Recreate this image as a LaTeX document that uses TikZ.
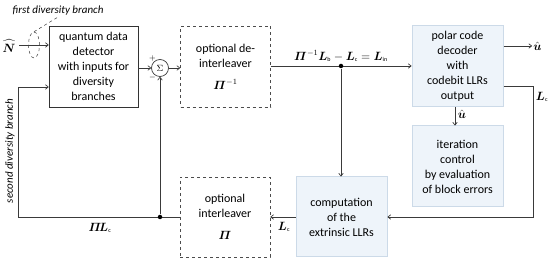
\documentclass[tikz,border=0pt]{standalone}
\usepackage{amsmath}
\usepackage{fontspec}
\setmainfont{Carlito}
\usetikzlibrary{arrows.meta,shapes.geometric}
\definecolor{lbfill}{HTML}{EEF4FA}
\definecolor{lbdraw}{HTML}{CCDAE8}
\definecolor{ln}{HTML}{3A3A3A}
\newcommand{\sbs}[1]{_{\scriptscriptstyle\mathrm{#1}}}
\begin{document}
\begin{tikzpicture}[x=1pt,y=-1pt,
  font=\fontsize{12}{15}\selectfont,
  every path/.style={line width=0.7pt},
  arr/.style={-{To[length=3.5pt,width=5pt]}, draw=ln},
  wire/.style={draw=ln},
  plainbox/.style={draw=black!80, rectangle, align=center, minimum width=89pt, minimum height=81pt, inner sep=1pt},
  dbox/.style={draw=black!70, dashed, rectangle, align=center, minimum width=90pt, minimum height=81pt, inner sep=1pt},
  bbox/.style={draw=lbdraw, fill=lbfill, rectangle, align=center, minimum width=91pt, minimum height=81pt, inner sep=1pt, line width=1pt},
  lbl/.style={inner sep=1pt},
  dotn/.style={circle, fill=black, inner sep=0pt, minimum size=4.5pt}]
\useasboundingbox (0,0) rectangle (550,264);

\node[plainbox] (quant) at (93.5,66.5) {quantum data\\detector\\with inputs for\\diversity\\branches};
\node[draw=ln, circle, minimum size=17pt, inner sep=0pt, font=\fontsize{9}{10}\selectfont] (sum) at (160,68) {$\Sigma$};
\node[dbox] (deint) at (225.5,66.5) {optional de-\\interleaver\\[7pt]$\boldsymbol{\varPi}^{-1}$};
\node[bbox] (polar) at (457.5,66.5) {polar code\\decoder\\with\\codebit LLRs\\output};
\node[bbox] (iter) at (457.5,166.5) {iteration\\control\\by evaluation\\of block errors};
\node[bbox, minimum height=80pt] (comp) at (341.5,217) {computation\\of the\\extrinsic LLRs};
\node[dbox, minimum height=80pt] (inter) at (225,217) {optional\\interleaver\\[7pt]$\boldsymbol{\varPi}$};

% input N
\node[lbl] (N) at (9,46) {$\widehat{\boldsymbol{N}}$};
\draw[arr] (19,45) coordinate (n0) -- (quant.west |- n0);
\node[draw=ln, dashed, ellipse, minimum width=11pt, minimum height=26pt, inner sep=0pt, line width=0.5pt] (ell) at (34,45) {};
\node[lbl, font=\fontsize{11}{12}\selectfont\itshape] (first) at (58,11) {first diversity branch};
\draw[ln, dashed, line width=0.5pt] (ell.north) -- (first.south);

% sum
\draw[arr] (quant.east |- sum.west) -- (sum.west);
\draw[arr] (sum.east) -- (sum.east -| deint.west);
\node[lbl, font=\fontsize{8}{9}\selectfont] (plus) at (152.5,59) {$+$};
\node[lbl, font=\fontsize{8}{9}\selectfont] (minus) at (152.5,78) {$-$};

% deint to polar
\coordinate (j1) at (341,66);
\draw[arr] (deint.east |- j1) -- (polar.west |- j1);
\node[dotn] (d1) at (j1) {};
\node[lbl] (lin) at (341,56) {$\boldsymbol{\varPi}^{-1}\boldsymbol{L}\sbs{b}-\boldsymbol{L}\sbs{c}=\boldsymbol{L}\sbs{in}$};
\draw[arr] (d1) -- (d1 |- comp.north);

% outputs of polar
\coordinate (uo) at (532,46);
\draw[arr] (polar.east |- uo) -- (uo);
\node[lbl, anchor=west] (uhat) at (uo) {$\hat{\boldsymbol{u}}$};
\coordinate (c1) at (533,86);
\coordinate (c2) at (533,217);
\draw[arr] (polar.east |- c1) -- (c1) -- (c2) -- (comp.east |- c2);
\node[lbl] (lc1) at (542,97) {$\boldsymbol{L}\sbs{c}$};
\draw[arr] (polar.south -| 455,0) -- (iter.north -| 455,0);
\node[lbl] (uhat2) at (462,114) {$\hat{\boldsymbol{u}}$};

% comp to interleaver
\draw[arr] (comp.west) -- (inter.east |- comp.west);
\node[lbl] (lc2) at (284,227) {$\boldsymbol{L}\sbs{c}$};

% feedback
\coordinate (j2) at (160,217);
\coordinate (f1) at (18,217);
\coordinate (f2) at (18,87);
\draw[wire] (inter.west |- j2) -- (f1) -- (f2);
\draw[arr] (f2) -- (quant.west |- f2);
\node[dotn] (d2) at (j2) {};
\draw[arr] (d2) -- (sum.south);
\node[lbl] (pilc) at (100,228) {$\boldsymbol{\varPi\!L}\sbs{c}$};
\node[lbl, rotate=90, font=\fontsize{11}{12}\selectfont\itshape] (second) at (10,151) {second diversity branch};
\end{tikzpicture}
\end{document}
